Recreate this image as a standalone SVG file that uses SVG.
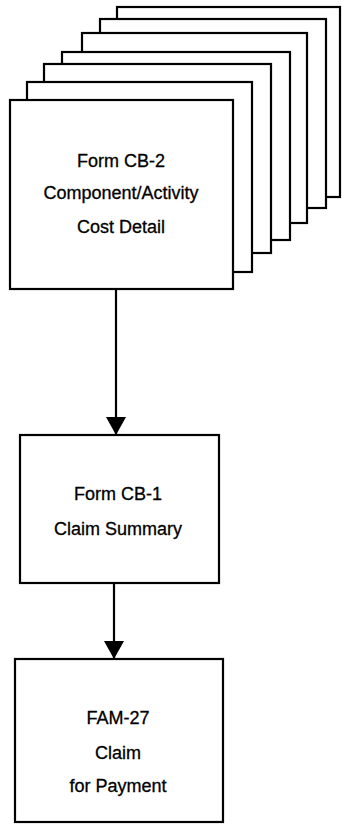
<svg xmlns="http://www.w3.org/2000/svg" width="342" height="824" viewBox="0 0 342 824">
<style>
.pg{fill:#fff;stroke:#000;stroke-width:2.2}
.bx{fill:#fff;stroke:#000;stroke-width:2.2}
.t{font-family:"Liberation Sans",Arial,sans-serif;font-size:18px;fill:#000;stroke:#000;stroke-width:0.3;text-anchor:middle}
.ln{stroke:#000;stroke-width:2.2;fill:none}
</style>
<defs>
<marker id="ah" markerWidth="18" markerHeight="20" refX="18" refY="10" orient="auto" markerUnits="userSpaceOnUse" viewBox="0 0 18 20">
<path d="M0,0 L18,10 L0,20 Z" fill="#000"/>
</marker>
</defs>
<rect width="342" height="824" fill="#fff"/>
<g id="cb2">
<rect class="pg" x="117" y="7" width="223" height="190"/>
<rect class="pg" x="100" y="19" width="226" height="189"/>
<rect class="pg" x="82" y="33" width="225" height="190"/>
<rect class="pg" x="62" y="52" width="228" height="188"/>
<rect class="pg" x="44" y="64" width="227" height="189"/>
<rect class="pg" x="27" y="82" width="225" height="190"/>
<rect class="pg" x="10" y="100" width="223" height="189"/>
<text class="t" x="121" y="167">Form CB-2</text>
<text class="t" x="121" y="199">Component/Activity</text>
<text class="t" x="121" y="233">Cost Detail</text>
</g>
<g id="cb1">
<rect class="bx" x="20" y="435" width="199" height="148"/>
<text class="t" x="118" y="500">Form CB-1</text>
<text class="t" x="118" y="535">Claim Summary</text>
</g>
<g id="fam27">
<rect class="bx" x="15" y="659" width="208" height="163"/>
<text class="t" x="118" y="724">FAM-27</text>
<text class="t" x="118" y="759">Claim</text>
<text class="t" x="118" y="792">for Payment</text>
</g>
<g id="connectors">
<line class="ln" x1="116" y1="289" x2="116" y2="435" marker-end="url(#ah)"/>
<line class="ln" x1="114" y1="584" x2="114" y2="659" marker-end="url(#ah)"/>
</g>
</svg>
